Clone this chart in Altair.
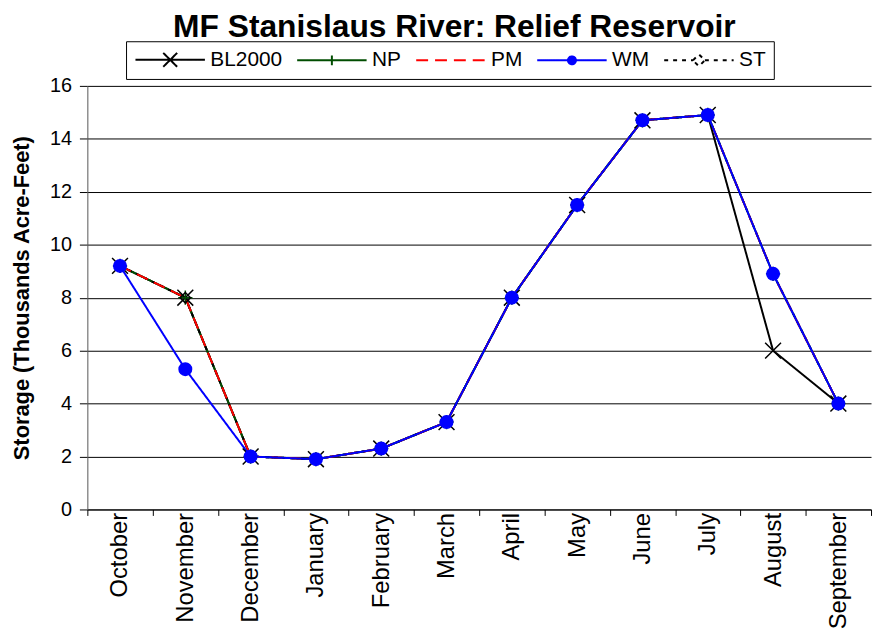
import altair as alt
import pandas as pd

months = ["October", "November", "December", "January", "February", "March",
          "April", "May", "June", "July", "August", "September"]
series_names = ["BL2000", "NP", "PM", "WM", "ST"]
bl2000 = [9.2, 8.0, 2.0, 1.9, 2.3, 3.3, 8.0, 11.5, 14.7, 14.9, 6.0, 4.0]
np_vals = [9.2, 8.0, 2.0, 1.9, 2.3, 3.3, 8.0, 11.5, 14.7, 14.9, 8.9, 4.0]
pm_vals = [9.2, 8.0, 2.0, 1.9, 2.3, 3.3, 8.0, 11.5, 14.7, 14.9, 8.9, 4.0]
wm_vals = [9.2, 5.3, 2.0, 1.9, 2.3, 3.3, 8.0, 11.5, 14.7, 14.9, 8.9, 4.0]
st_vals = [9.2, 8.0, 2.0, 1.9, 2.3, 3.3, 8.0, 11.5, 14.7, 14.9, 8.9, 4.0]
y_ticks = [0, 2, 4, 6, 8, 10, 12, 14, 16]

series_values = {"BL2000": bl2000, "NP": np_vals, "PM": pm_vals, "WM": wm_vals, "ST": st_vals}
draw_order = ["BL2000", "NP", "ST", "PM", "WM"]

colors = ["#000000", "#004d00", "#ff0000", "#0000ff", "#000000"]
dashes = [[1, 0], [1, 0], [12, 7], [1, 0], [4, 5]]

rows = []
for s in draw_order:
    for i, (m, v) in enumerate(zip(months, series_values[s])):
        rows.append({"series": s, "month": m, "idx": i, "value": v})
df = pd.DataFrame(rows)

FONT = "Liberation Sans"

x_enc = alt.X("month:N", sort=months,
              scale=alt.Scale(type="band", paddingInner=0, paddingOuter=0),
              axis=alt.Axis(title=None, labelAngle=-90, tickBand="extent", grid=False,
                            labelFontSize=24, labelFont=FONT, labelColor="black",
                            tickColor="black", tickSize=6, labelPadding=-3,
                            domainColor="black", domainWidth=1))
y_enc = alt.Y("value:Q", scale=alt.Scale(domain=[0, 16], nice=False, zero=True),
              axis=alt.Axis(values=y_ticks, title="Storage (Thousands Acre-Feet)",
                            grid=True, gridColor="black", gridWidth=1, gridOpacity=1,
                            labelFontSize=20, labelFont=FONT, labelColor="black",
                            tickColor="black", tickSize=8, labelPadding=8,
                            domainColor="#555555", domainWidth=1,
                            titleFontSize=22, titleFont=FONT, titleFontWeight="bold",
                            titleColor="black", titlePadding=16))

lines = alt.Chart(df).mark_line(strokeWidth=2).encode(
    x=x_enc, y=y_enc,
    color=alt.Color("series:N", scale=alt.Scale(domain=series_names, range=colors), legend=None),
    strokeDash=alt.StrokeDash("series:N", scale=alt.Scale(domain=series_names, range=dashes), legend=None),
    order=alt.Order("idx:Q"),
)

marker_series = ["BL2000", "NP", "WM", "ST"]
marker_shapes = ["M-1,-1L1,1M-1,1L1,-1", "M-1,0L1,0M0,-1L0,1", "circle", "diamond"]
marker_strokes = ["#000000", "#004d00", "#0000ff", "#000000"]
marker_fills = ["transparent", "transparent", "#0000ff", "transparent"]
marker_sizes = [256, 110, 49, 300]

points = alt.Chart(df).transform_filter(alt.datum.series != "PM").mark_point(
    strokeWidth=1.5, opacity=1, filled=False).encode(
    x=x_enc, y=y_enc,
    shape=alt.Shape("series:N", scale=alt.Scale(domain=marker_series, range=marker_shapes), legend=None),
    stroke=alt.Stroke("series:N", scale=alt.Scale(domain=marker_series, range=marker_strokes), legend=None),
    fill=alt.Fill("series:N", scale=alt.Scale(domain=marker_series, range=marker_fills), legend=None),
    size=alt.Size("series:N", scale=alt.Scale(domain=marker_series, range=marker_sizes), legend=None),
)

legend_shapes = [
    "M-7,0L7,0M-1.4,-1.4L1.4,1.4M-1.4,1.4L1.4,-1.4",
    "M-7,0L7,0M0,-1L0,1",
    "M-7,0L7,0",
    "M-7,0L7,0M-0.8,0A0.8,0.8 0 1,0 0.8,0A0.8,0.8 0 1,0 -0.8,0Z",
    "M-7,0L-1.2,0M1.2,0L7,0M-1.2,0L0,-1.2L1.2,0L0,1.2Z",
]
legend_fills = ["transparent", "transparent", "transparent", "#0000ff", "white"]

leg = alt.Legend(title=None, orient="none", legendX=39, legendY=-45, direction="horizontal",
                 columns=5, columnPadding=10, strokeColor="black", fillColor="white",
                 padding=8, labelFontSize=21, labelFont=FONT, labelColor="black",
                 symbolSize=100, symbolStrokeWidth=2, symbolOffset=26, labelOffset=30)

legend_layer = alt.Chart(df).transform_filter("false").mark_point(
    strokeWidth=2, opacity=1, filled=False, size=100).encode(
    shape=alt.Shape("series:N", scale=alt.Scale(domain=series_names, range=legend_shapes), legend=leg),
    stroke=alt.Stroke("series:N", scale=alt.Scale(domain=series_names, range=colors), legend=leg),
    fill=alt.Fill("series:N", scale=alt.Scale(domain=series_names, range=legend_fills), legend=leg),
    strokeDash=alt.StrokeDash("series:N", scale=alt.Scale(domain=series_names, range=dashes), legend=leg),
)

chart = alt.layer(lines, points, legend_layer).resolve_scale(
    color="independent", stroke="independent", fill="independent",
    shape="independent", strokeDash="independent", size="independent",
).properties(
    width=790, height=427,
    padding={"left": 2, "top": 0, "right": 2, "bottom": 0},
    background="white",
    title=alt.TitleParams("MF Stanislaus River: Relief Reservoir", fontSize=32, font=FONT,
                          fontWeight="bold", color="black", anchor="middle", frame="group",
                          dx=-25, offset=-3),
).configure_view(stroke=None)

chart.save("out.html", embed_options={"renderer": "svg", "actions": False})
